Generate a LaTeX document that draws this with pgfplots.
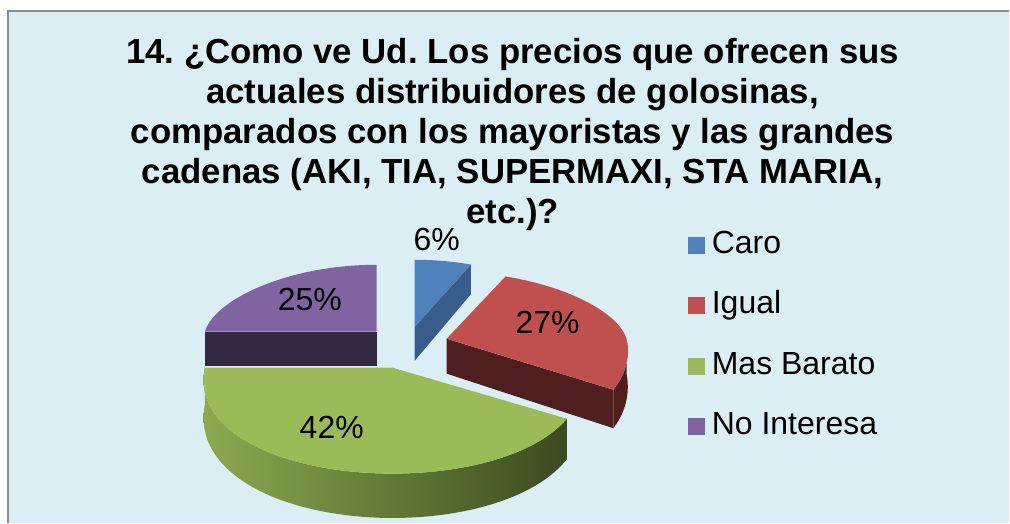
\documentclass[border=0pt]{standalone}
\usepackage{fontspec}
\setmainfont{Liberation Sans}
\usepackage{pgfplots}
\usepackage{pgfplotstable}
\pgfplotsset{compat=1.18}
\frenchspacing

\definecolor{bg}{HTML}{DBEEF4}
\definecolor{cBlue}{HTML}{4F81BD}
\definecolor{cBlueS}{HTML}{385D8A}
\definecolor{cRed}{HTML}{C0504D}
\definecolor{cRedS}{HTML}{4F1E1F}
\definecolor{cGreen}{HTML}{9BBB59}
\definecolor{cGreenL}{HTML}{8DAA50}
\definecolor{cGreenD}{HTML}{3B4A20}
\definecolor{cPurple}{HTML}{8064A2}
\definecolor{cPurpleS}{HTML}{32283F}

% share of answers (%)
\pgfplotstableread{
name value
Caro 6
Igual 27
MasBarato 42
NoInteresa 25
}\piedata

\pgfplotstablegetelem{0}{value}\of\piedata \edef\vA{\pgfplotsretval}
\pgfplotstablegetelem{1}{value}\of\piedata \edef\vB{\pgfplotsretval}
\pgfplotstablegetelem{2}{value}\of\piedata \edef\vC{\pgfplotsretval}
\pgfplotstablegetelem{3}{value}\of\piedata \edef\vD{\pgfplotsretval}
\pgfmathsetmacro\tA{0}
\pgfmathsetmacro\tB{\tA+3.6*\vA}
\pgfmathsetmacro\tC{\tB+3.6*\vB}
\pgfmathsetmacro\tD{\tC+3.6*\vC}
\pgfmathsetmacro\tE{\tD+3.6*\vD}

% top face: style, a, b, cx, cy, rx
\newcommand{\topface}[6]{%
 \addplot[#1, draw=none, variable=\s, domain=0:1, samples=90]
 ({px(#2+(#3-#2)*\s,#4,#6)},{py(#2+(#3-#2)*\s,#5)}) -- (axis cs:#4,#5) -- cycle;
}
% outer side face: style, a, b, cx, cy, rx
\newcommand{\sideface}[6]{%
 \addplot[#1, forget plot, draw=none, variable=\s, samples at={0,0.01,...,2.0001}]
 ({px(tpar(\s,#2,#3),#4,#6)},{py(tpar(\s,#2,#3),#5)+(\s>1)*dep(py(tpar(\s,#2,#3),#5))});
}
% radial cut face: style, theta, cx, cy, rx
\newcommand{\cutface}[5]{%
 \pgfmathsetmacro\oX{px(#2,#3,#5)}%
 \pgfmathsetmacro\oY{py(#2,#4)}%
 \pgfmathsetmacro\oYb{\oY+dep(\oY)}%
 \pgfmathsetmacro\cYb{#4+dep(#4)}%
 \addplot[#1, forget plot, draw=none] coordinates {(#3,#4) (\oX,\oY) (\oX,\oYb) (#3,\cYb)};
}

\begin{document}
\begin{tikzpicture}[declare function={
  px(\pt,\pc,\pr)=\pc+\pr*sin(\pt)*(1-0.12*cos(\pt));
  py(\pt,\pc)=\pc-cos(\pt)*((cos(\pt)>0)?67:106);
  dep(\py)=35+0.07*(\py-340);
  tpar(\ps,\pa,\pb)=(\ps<=1)?(\pa+(\pb-\pa)*\ps):(\pb-(\pb-\pa)*max(\ps-1.02,0)/0.98);
}]
\begin{axis}[
  scale only axis, width=505pt, height=261.5pt,
  xmin=0, xmax=1010, ymin=0, ymax=523, y dir=reverse,
  hide axis, clip=false,
  legend image code/.code={\fill[#1] (0pt,-4.25pt) rectangle (8.5pt,4.25pt);},
  legend cell align=left,
  legend style={draw=none, fill=none, at={(axis cs:688,229)}, anchor=north west,
    inner sep=0pt, row sep=14.3pt, column sep=3.5pt,
    font=\fontsize{16}{19}\selectfont,
    nodes={inner sep=0pt, text height=12pt, text depth=4pt}},
]
\fill[white] (axis cs:0,0) rectangle (axis cs:1010,523);
\fill[bg] (axis cs:8,11) rectangle (axis cs:1010,523);
\draw[gray!90, line width=0.8pt, line cap=butt] (axis cs:8,523) -- (axis cs:8,11) -- (axis cs:1010,11);

% side faces (back to front)
\cutface{fill=cPurpleS}{\tD}{377}{332}{172}
\cutface{fill=cBlueS}{\tB}{415}{327}{172}
\sideface{fill=cRedS}{90}{\tC}{447}{339}{180}
\cutface{fill=cRedS}{\tC}{447}{339}{180}
\sideface{left color=cGreenL, right color=cGreenD}{\tC}{\tD}{393}{368}{188}

% top faces
\topface{fill=cBlue}{\tA}{\tB}{415}{327}{172}
\addlegendentry{Caro}
\topface{fill=cRed}{\tB}{\tC}{447}{339}{180}
\addlegendentry{Igual}
\topface{fill=cGreen}{\tC}{\tD}{393}{368}{188}
\addlegendentry{Mas Barato}
\topface{fill=cPurple}{\tD}{\tE}{377}{332}{172}
\addlegendentry{No Interesa}

% data labels
\node[font=\fontsize{16}{19}\selectfont] at (axis cs:437,240) {6\%};
\node[font=\fontsize{16}{19}\selectfont] at (axis cs:548,323) {27\%};
\node[font=\fontsize{16}{19}\selectfont] at (axis cs:332,428) {42\%};
\node[font=\fontsize{16}{19}\selectfont] at (axis cs:310,300) {25\%};

% title
\node[anchor=north, align=center, inner sep=0pt,
  font=\bfseries\fontsize{17.4}{20}\selectfont] at (axis cs:513,38)
  {14. ¿Como ve Ud. Los precios que ofrecen sus\\
   actuales distribuidores de golosinas,\\
   comparados con los mayoristas y las grandes\\
   cadenas (AKI, TIA, SUPERMAXI, STA MARIA,\\
   etc.)?};
\end{axis}
\end{tikzpicture}
\end{document}
